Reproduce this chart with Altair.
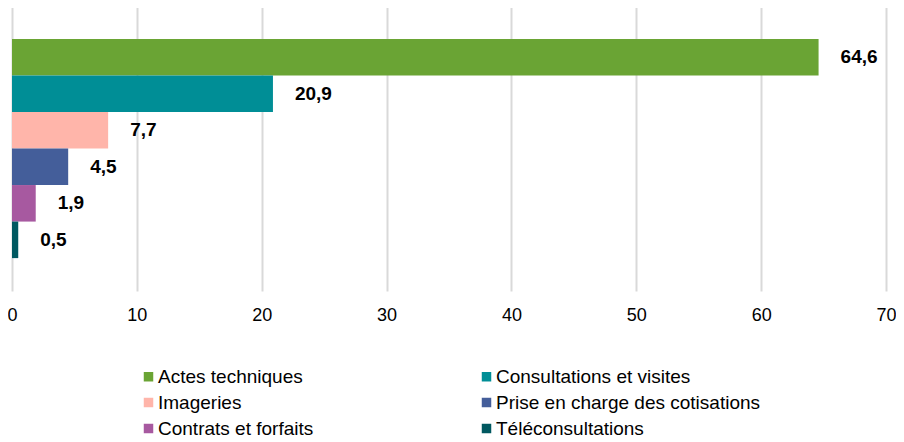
import altair as alt
import pandas as pd

categories = ["Actes techniques", "Consultations et visites", "Imageries",
              "Prise en charge des cotisations", "Contrats et forfaits", "Téléconsultations"]
values = [64.6, 20.9, 7.7, 4.5, 1.9, 0.5]
colors = ["#6AA434", "#008E96", "#FFB5AA", "#445E9A", "#A759A0", "#005860"]
x_ticks = [0, 10, 20, 30, 40, 50, 60, 70]

df = pd.DataFrame({"categorie": categories, "valeur": values})

FONT = "Liberation Sans, Arial, sans-serif"

y_enc = alt.Y("categorie:N", sort=categories, axis=None,
              scale=alt.Scale(paddingInner=0, paddingOuter=0.9))

base = alt.Chart(df)

bars = base.mark_bar().encode(
    x=alt.X("valeur:Q",
            scale=alt.Scale(domain=[0, 70], nice=False),
            axis=alt.Axis(values=x_ticks, title=None, ticks=False, domain=False,
                          grid=True, gridColor="#D9D9D9", gridWidth=2,
                          labelFont=FONT, labelFontSize=18, labelColor="#000000",
                          labelPadding=15, labelFlush=False)),
    y=y_enc,
    color=alt.Color("categorie:N", sort=categories,
                    scale=alt.Scale(domain=categories, range=colors),
                    legend=alt.Legend(title=None, orient="none", legendX=127, legendY=361,
                                      direction="horizontal",
                                      columns=2, columnPadding=163, rowPadding=6,
                                      symbolType="square", symbolSize=90,
                                      symbolStrokeWidth=0, labelOffset=0,
                                      labelFont=FONT, labelFontSize=19,
                                      labelColor="#000000", labelLimit=400, padding=0)),
)

labels = base.transform_calculate(
    lab="replace(format(datum.valeur, '.1f'), '.', ',')"
).mark_text(align="left", baseline="middle", dx=22, font=FONT, fontSize=19,
            fontWeight="bold", color="#000000").encode(
    x="valeur:Q",
    y=y_enc,
    text="lab:N",
)

chart = (bars + labels).properties(
    width=874, height=285,
    autosize=alt.AutoSizeParams(type="none"),
    padding={"left": 4, "top": -2, "right": 10, "bottom": 149},
).configure_view(stroke=None)

chart.save("out.html", embed_options={"renderer": "svg", "actions": False})
